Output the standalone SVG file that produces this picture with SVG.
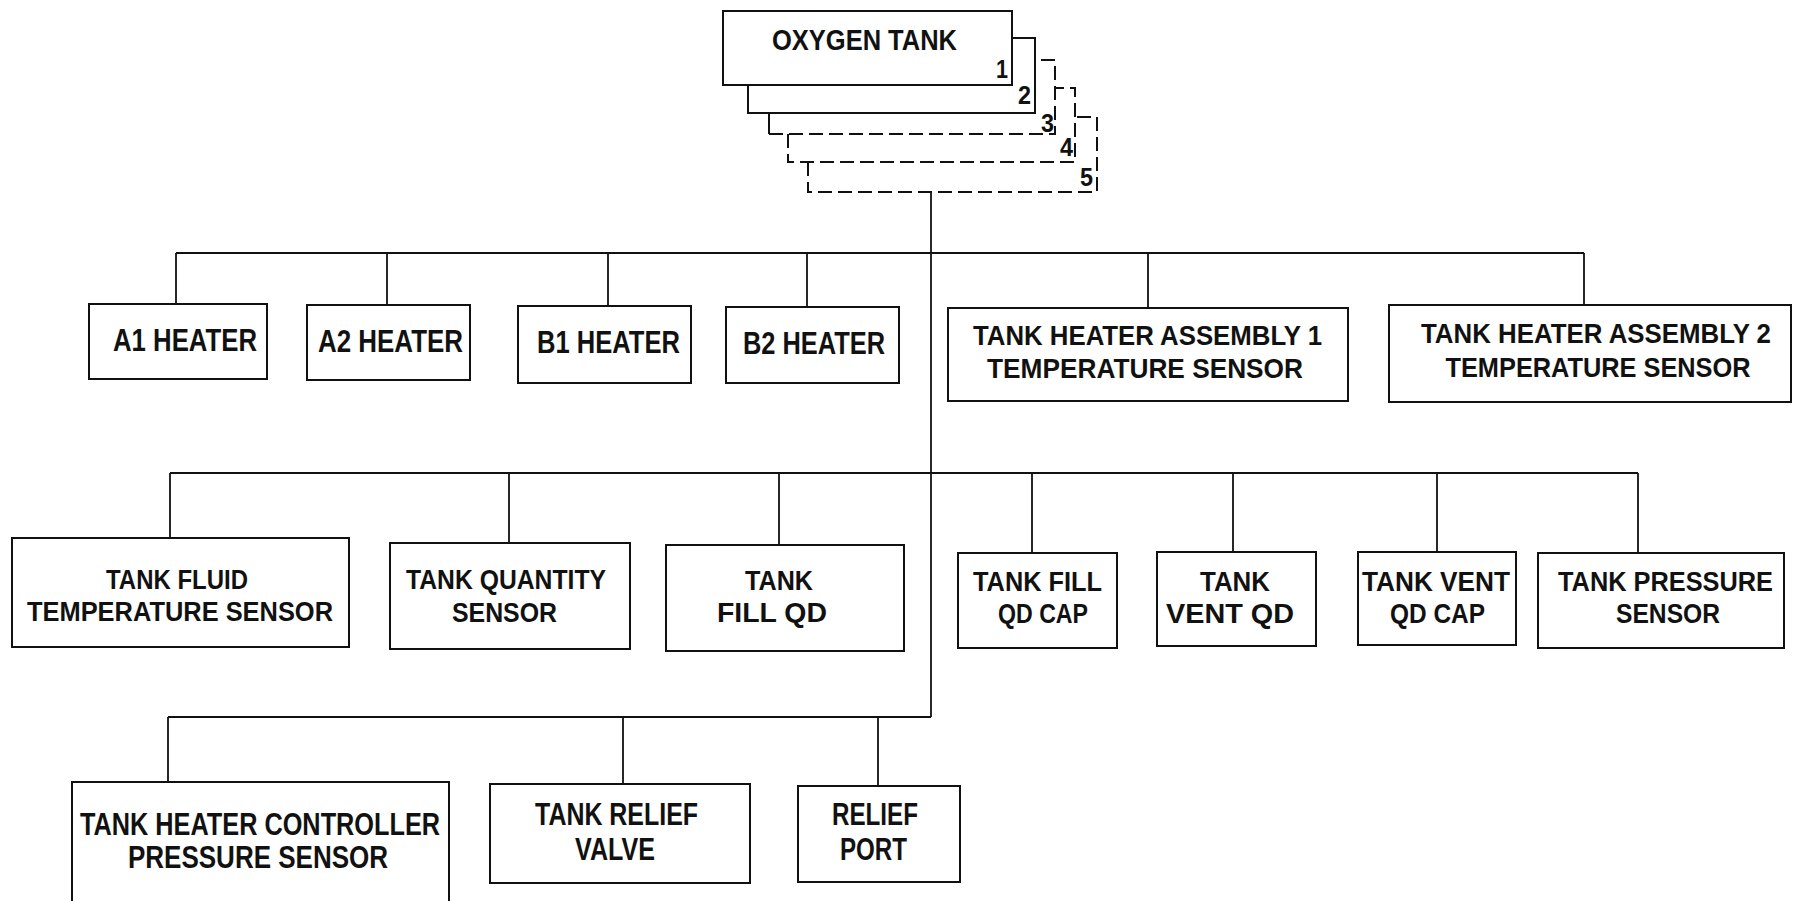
<svg xmlns="http://www.w3.org/2000/svg" width="1797" height="901" viewBox="0 0 1797 901">
<style>
.bx{fill:#fff;stroke:#111;stroke-width:2}
.sh{fill:none;stroke:#111;stroke-width:2}
.dsh{fill:none;stroke:#111;stroke-width:2;stroke-dasharray:14 6}
.cn{fill:none;stroke:#111;stroke-width:1.8}
text{font-family:"Liberation Sans Narrow","Liberation Sans",Arial,sans-serif;font-weight:bold;font-size:31px;fill:#111;text-anchor:middle}
.t{font-size:29px}
.d{font-size:25px;text-anchor:start}
.m{font-size:28px}
.r2{font-size:27px}
</style>
<rect width="1797" height="901" fill="#fff"/>
<g id="connectors">
<path class="cn" d="M931,192 V717"/>
<path class="cn" d="M176,253 H1584 M176,253 V304 M387,253 V305 M608,253 V306 M807,253 V307 M1148,253 V308 M1584,253 V305"/>
<path class="cn" d="M170,473 H1638 M170,473 V538 M509,473 V543 M779,473 V545 M1032,473 V553 M1233,473 V552 M1437,473 V552 M1638,473 V553"/>
<path class="cn" d="M168,717 H931 M168,717 V782 M623,717 V784 M878,717 V786"/>
</g>
<g id="oxygen-tank">
<path class="dsh" d="M808,162 V192 H1097 V117 H1075"/>
<path class="dsh" d="M788,134 V162 H1075 V88 H1055"/>
<path class="sh" d="M769,113 V134"/>
<path class="dsh" d="M769,134 H1055 V60 H1035"/>
<path class="sh" d="M748,85 V113 H1035 V38 H1012"/>
<rect class="bx" x="723" y="11" width="289" height="74"/>
<text class="t" x="864.5" y="50" textLength="185" lengthAdjust="spacingAndGlyphs">OXYGEN TANK</text>
<text class="d" x="996" y="78" textLength="12" lengthAdjust="spacingAndGlyphs">1</text>
<text class="d" x="1018" y="104" textLength="13" lengthAdjust="spacingAndGlyphs">2</text>
<text class="d" x="1041" y="132" textLength="13" lengthAdjust="spacingAndGlyphs">3</text>
<text class="d" x="1060" y="156" textLength="13" lengthAdjust="spacingAndGlyphs">4</text>
<text class="d" x="1080" y="186" textLength="13" lengthAdjust="spacingAndGlyphs">5</text>
</g>
<g id="a1-heater">
<rect class="bx" x="89" y="304" width="178" height="75"/>
<text x="185" y="351" textLength="144" lengthAdjust="spacingAndGlyphs">A1 HEATER</text>
</g>
<g id="a2-heater">
<rect class="bx" x="307" y="305" width="163" height="75"/>
<text x="390.5" y="352" textLength="145" lengthAdjust="spacingAndGlyphs">A2 HEATER</text>
</g>
<g id="b1-heater">
<rect class="bx" x="518" y="306" width="173" height="77"/>
<text x="608.5" y="353" textLength="143" lengthAdjust="spacingAndGlyphs">B1 HEATER</text>
</g>
<g id="b2-heater">
<rect class="bx" x="726" y="307" width="173" height="76"/>
<text x="814" y="354" textLength="142" lengthAdjust="spacingAndGlyphs">B2 HEATER</text>
</g>
<g id="tha1-temp-sensor">
<rect class="bx" x="948" y="308" width="400" height="93"/>
<text class="m" x="1147.5" y="345" textLength="349" lengthAdjust="spacingAndGlyphs">TANK HEATER ASSEMBLY 1</text>
<text class="m" x="1145" y="378" textLength="316" lengthAdjust="spacingAndGlyphs">TEMPERATURE SENSOR</text>
</g>
<g id="tha2-temp-sensor">
<rect class="bx" x="1389" y="305" width="402" height="97"/>
<text class="m" x="1596" y="343" textLength="350" lengthAdjust="spacingAndGlyphs">TANK HEATER ASSEMBLY 2</text>
<text class="m" x="1598" y="377" textLength="305" lengthAdjust="spacingAndGlyphs">TEMPERATURE SENSOR</text>
</g>
<g id="tank-fluid-temp-sensor">
<rect class="bx" x="12" y="538" width="337" height="109"/>
<text class="r2" x="177" y="589" textLength="142" lengthAdjust="spacingAndGlyphs">TANK FLUID</text>
<text class="r2" x="180" y="621" textLength="306" lengthAdjust="spacingAndGlyphs">TEMPERATURE SENSOR</text>
</g>
<g id="tank-quantity-sensor">
<rect class="bx" x="390" y="543" width="240" height="106"/>
<text class="r2" x="506" y="589" textLength="200" lengthAdjust="spacingAndGlyphs">TANK QUANTITY</text>
<text class="r2" x="504.5" y="622" textLength="105" lengthAdjust="spacingAndGlyphs">SENSOR</text>
</g>
<g id="tank-fill-qd">
<rect class="bx" x="666" y="545" width="238" height="106"/>
<text class="r2" x="779" y="590" textLength="68" lengthAdjust="spacingAndGlyphs">TANK</text>
<text class="r2" x="772" y="622" textLength="110" lengthAdjust="spacingAndGlyphs">FILL QD</text>
</g>
<g id="tank-fill-qd-cap">
<rect class="bx" x="958" y="553" width="159" height="95"/>
<text class="r2" x="1037.5" y="591" textLength="129" lengthAdjust="spacingAndGlyphs">TANK FILL</text>
<text class="r2" x="1043" y="623" textLength="90" lengthAdjust="spacingAndGlyphs">QD CAP</text>
</g>
<g id="tank-vent-qd">
<rect class="bx" x="1157" y="552" width="159" height="94"/>
<text class="r2" x="1235" y="591" textLength="70" lengthAdjust="spacingAndGlyphs">TANK</text>
<text class="r2" x="1230" y="623" textLength="128" lengthAdjust="spacingAndGlyphs">VENT QD</text>
</g>
<g id="tank-vent-qd-cap">
<rect class="bx" x="1358" y="552" width="158" height="93"/>
<text class="r2" x="1436" y="591" textLength="148" lengthAdjust="spacingAndGlyphs">TANK VENT</text>
<text class="r2" x="1437.5" y="623" textLength="95" lengthAdjust="spacingAndGlyphs">QD CAP</text>
</g>
<g id="tank-pressure-sensor">
<rect class="bx" x="1538" y="553" width="246" height="95"/>
<text class="r2" x="1665.5" y="591" textLength="215" lengthAdjust="spacingAndGlyphs">TANK PRESSURE</text>
<text class="r2" x="1668" y="623" textLength="104" lengthAdjust="spacingAndGlyphs">SENSOR</text>
</g>
<g id="thc-pressure-sensor">
<rect class="bx" x="72" y="782" width="377" height="140"/>
<text x="260" y="835" textLength="360" lengthAdjust="spacingAndGlyphs">TANK HEATER CONTROLLER</text>
<text x="258" y="868" textLength="260" lengthAdjust="spacingAndGlyphs">PRESSURE SENSOR</text>
</g>
<g id="tank-relief-valve">
<rect class="bx" x="490" y="784" width="260" height="99"/>
<text x="616.5" y="825" textLength="163" lengthAdjust="spacingAndGlyphs">TANK RELIEF</text>
<text x="615" y="860" textLength="80" lengthAdjust="spacingAndGlyphs">VALVE</text>
</g>
<g id="relief-port">
<rect class="bx" x="798" y="786" width="162" height="96"/>
<text x="875" y="825" textLength="86" lengthAdjust="spacingAndGlyphs">RELIEF</text>
<text x="873.5" y="860" textLength="67" lengthAdjust="spacingAndGlyphs">PORT</text>
</g>
</svg>
